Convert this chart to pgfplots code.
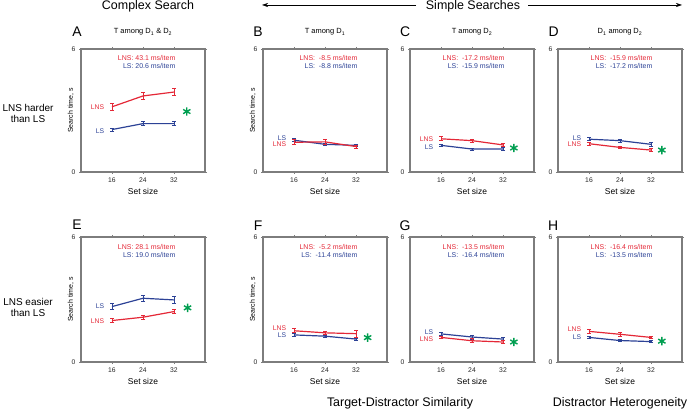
\documentclass[border=0pt]{standalone}
\usepackage{fontspec}
\setmainfont{Liberation Sans}
\usepackage{pgfplots}
\pgfplotsset{compat=1.18}
\usetikzlibrary{arrows.meta}
\definecolor{lnsred}{RGB}{228,40,55}
\definecolor{lsblue}{RGB}{44,66,150}
\definecolor{stargreen}{RGB}{0,158,80}
\definecolor{framegray}{RGB}{125,125,125}
\pgfplotsset{
  panel/.style={scale only axis, width=124bp, xmin=8, xmax=40, ymin=0, ymax=6,
    xtick={16,24,32}, ytick={0,6}, clip=false,
    axis line style={framegray, line width=1.1pt},
    tick style={framegray, line width=0.5pt}, major tick length=2bp, tick align=outside,
    ticklabel style={font=\fontsize{6.8}{7}\selectfont, text=black!85},
    /pgf/number format/assume math mode=true,
    xlabel={Set size}, xlabel style={font=\fontsize{8.5}{9}\selectfont, at={(axis description cs:0.5,0)}, anchor=center, yshift=-19bp},
    ylabel style={font=\fontsize{7}{8}\selectfont, at={(axis description cs:-0.082,0.5)}, anchor=center},
    title style={font=\fontsize{7.5}{8}\selectfont, at={(axis description cs:0.5,1)}, anchor=center, yshift=11bp},
    anchor=south west},
  toprow/.style={height=123bp},
  botrow/.style={height=125bp},
  lns/.style={lnsred, line width=1.2pt, mark=none, error bars/.cd, y dir=both, y explicit,
    error bar style={lnsred, line width=0.8pt}, error mark options={rotate=90, mark size=2bp, lnsred, line width=0.8pt}},
  ls/.style={lsblue, line width=1.2pt, mark=none, error bars/.cd, y dir=both, y explicit,
    error bar style={lsblue, line width=0.8pt}, error mark options={rotate=90, mark size=2bp, lsblue, line width=0.8pt}},
  star/.style={only marks, mark=asterisk, mark size=4.2bp, stargreen, line width=1.4pt},
}
\tikzset{
  ann/.style={anchor=east, font=\fontsize{7}{8}\selectfont, inner sep=0pt},
  ser/.style={anchor=east, font=\fontsize{6.8}{7}\selectfont, inner sep=0pt},
  letter/.style={anchor=center, font=\fontsize{14}{15}\selectfont},
  head/.style={font=\fontsize{12.5}{14}\selectfont, anchor=center},
}
\begin{document}
\begin{tikzpicture}
\useasboundingbox (0,0) rectangle (689bp,411bp);
% Headers
\node[head] at (148bp,405bp) {Complex Search};
\node[head] at (473bp,405bp) {Simple Searches};
\draw[line width=0.6pt, -{Stealth[length=6bp,width=4bp]}] (416bp,406bp) -- (262bp,406bp);
\draw[line width=0.6pt, -{Stealth[length=6bp,width=4bp]}] (528bp,406bp) -- (682bp,406bp);
\node[head] at (400bp,8bp) {Target-Distractor Similarity};
\node[head] at (620bp,8bp) {Distractor Heterogeneity};
\node[font=\fontsize{10}{11}\selectfont, align=center] at (28bp,298bp) {LNS harder\\than LS};
\node[font=\fontsize{10}{11}\selectfont, align=center] at (28bp,104bp) {LNS easier\\than LS};

% ---------- A ----------
\begin{axis}[panel, toprow, at={(81bp,239bp)}, ylabel={Search time, s}, title={T among D\textsubscript{1} \& D\textsubscript{2}}]
\addplot[lns] coordinates {(16,3.18) +- (0,0.18) (24,3.71) +- (0,0.18) (32,3.90) +- (0,0.18)};
\addplot[ls] coordinates {(16,2.07) +- (0,0.07) (24,2.36) +- (0,0.1) (32,2.36) +- (0,0.1)};
\addplot[star] coordinates {(35.3,2.95)};
\node[ann, lnsred] at (axis cs:32.4,5.55) {LNS: 43.1 ms/item};
\node[ann, lsblue] at (axis cs:32.4,5.15) {LS: 20.6 ms/item};
\node[ser, lnsred] at (axis cs:14,3.18) {LNS};
\node[ser, lsblue] at (axis cs:14,2.0) {LS};
\node[letter] at (axis description cs:-0.032,1.138) {A};
\end{axis}

% ---------- B ----------
\begin{axis}[panel, toprow, at={(263bp,239bp)}, ylabel={Search time, s}, title={T among D\textsubscript{1}}]
\addplot[ls] coordinates {(16,1.55) +- (0,0.08) (24,1.35) +- (0,0.06) (32,1.30) +- (0,0.05)};
\addplot[lns] coordinates {(16,1.45) +- (0,0.12) (24,1.47) +- (0,0.1) (32,1.24) +- (0,0.07)};
\node[ann, lnsred] at (axis cs:32.4,5.55) {LNS:\ \ -8.5 ms/item};
\node[ann, lsblue] at (axis cs:32.4,5.15) {LS:\ \ -8.8 ms/item};
\node[ser, lsblue] at (axis cs:14,1.66) {LS};
\node[ser, lnsred] at (axis cs:14,1.36) {LNS};
\node[letter] at (axis description cs:-0.04,1.138) {B};
\end{axis}

% ---------- C ----------
\begin{axis}[panel, toprow, at={(410bp,239bp)}, title={T among D\textsubscript{2}}]
\addplot[lns] coordinates {(16,1.62) +- (0,0.1) (24,1.53) +- (0,0.08) (32,1.32) +- (0,0.08)};
\addplot[ls] coordinates {(16,1.30) +- (0,0.06) (24,1.12) +- (0,0.05) (32,1.12) +- (0,0.06)};
\addplot[star] coordinates {(34.8,1.17)};
\node[ann, lnsred] at (axis cs:32.4,5.55) {LNS:\ \ -17.2 ms/item};
\node[ann, lsblue] at (axis cs:32.4,5.15) {LS:\ \ -15.9 ms/item};
\node[ser, lnsred] at (axis cs:14,1.62) {LNS};
\node[ser, lsblue] at (axis cs:14,1.22) {LS};
\node[letter] at (axis description cs:-0.04,1.138) {C};
\end{axis}

% ---------- D ----------
\begin{axis}[panel, toprow, at={(558bp,239bp)}, title={D\textsubscript{1} among D\textsubscript{2}}]
\addplot[ls] coordinates {(16,1.60) +- (0,0.08) (24,1.53) +- (0,0.07) (32,1.35) +- (0,0.08)};
\addplot[lns] coordinates {(16,1.38) +- (0,0.08) (24,1.20) +- (0,0.05) (32,1.07) +- (0,0.07)};
\addplot[star] coordinates {(34.8,1.07)};
\node[ann, lnsred] at (axis cs:32.4,5.55) {LNS:\ \ -15.9 ms/item};
\node[ann, lsblue] at (axis cs:32.4,5.15) {LS:\ \ -17.2 ms/item};
\node[ser, lsblue] at (axis cs:14,1.66) {LS};
\node[ser, lnsred] at (axis cs:14,1.36) {LNS};
\node[letter] at (axis description cs:-0.035,1.138) {D};
\end{axis}

% ---------- E ----------
\begin{axis}[panel, botrow, at={(81bp,49bp)}, ylabel={Search time, s}]
\addplot[ls] coordinates {(16,2.66) +- (0,0.15) (24,3.06) +- (0,0.15) (32,2.98) +- (0,0.15)};
\addplot[lns] coordinates {(16,1.99) +- (0,0.1) (24,2.15) +- (0,0.1) (32,2.42) +- (0,0.1)};
\addplot[star] coordinates {(35.5,2.6)};
\node[ann, lnsred] at (axis cs:32.4,5.52) {LNS: 28.1 ms/item};
\node[ann, lsblue] at (axis cs:32.4,5.13) {LS: 19.0 ms/item};
\node[ser, lsblue] at (axis cs:14,2.66) {LS};
\node[ser, lnsred] at (axis cs:14,1.94) {LNS};
\node[letter] at (axis description cs:-0.032,1.096) {E};
\end{axis}

% ---------- F ----------
\begin{axis}[panel, botrow, at={(263bp,49bp)}, ylabel={Search time, s}]
\addplot[ls] coordinates {(16,1.30) +- (0,0.06) (24,1.24) +- (0,0.05) (32,1.10) +- (0,0.05)};
\addplot[lns] coordinates {(16,1.50) +- (0,0.1) (24,1.40) +- (0,0.07) (32,1.36) +- (0,0.18)};
\addplot[star] coordinates {(35,1.17)};
\node[ann, lnsred] at (axis cs:32.4,5.52) {LNS:\ \ -5.2 ms/item};
\node[ann, lsblue] at (axis cs:32.4,5.13) {LS:\ \ -11.4 ms/item};
\node[ser, lnsred] at (axis cs:14,1.61) {LNS};
\node[ser, lsblue] at (axis cs:14,1.29) {LS};
\node[letter] at (axis description cs:-0.04,1.09) {F};
\end{axis}

% ---------- G ----------
\begin{axis}[panel, botrow, at={(410bp,49bp)}]
\addplot[ls] coordinates {(16,1.35) +- (0,0.08) (24,1.20) +- (0,0.1) (32,1.10) +- (0,0.08)};
\addplot[lns] coordinates {(16,1.18) +- (0,0.07) (24,1.02) +- (0,0.1) (32,0.96) +- (0,0.07)};
\addplot[star] coordinates {(34.8,0.96)};
\node[ann, lnsred] at (axis cs:32.4,5.52) {LNS:\ \ -13.5 ms/item};
\node[ann, lsblue] at (axis cs:32.4,5.13) {LS:\ \ -16.4 ms/item};
\node[ser, lsblue] at (axis cs:14,1.42) {LS};
\node[ser, lnsred] at (axis cs:14,1.11) {LNS};
\node[letter] at (axis description cs:-0.04,1.09) {G};
\end{axis}

% ---------- H ----------
\begin{axis}[panel, botrow, at={(558bp,49bp)}]
\addplot[lns] coordinates {(16,1.47) +- (0,0.1) (24,1.33) +- (0,0.08) (32,1.18) +- (0,0.07)};
\addplot[ls] coordinates {(16,1.18) +- (0,0.06) (24,1.03) +- (0,0.06) (32,0.98) +- (0,0.06)};
\addplot[star] coordinates {(34.8,1.0)};
\node[ann, lnsred] at (axis cs:32.4,5.52) {LNS:\ \ -16.4 ms/item};
\node[ann, lsblue] at (axis cs:32.4,5.13) {LS:\ \ -13.5 ms/item};
\node[ser, lnsred] at (axis cs:14,1.56) {LNS};
\node[ser, lsblue] at (axis cs:14,1.21) {LS};
\node[letter] at (axis description cs:-0.04,1.09) {H};
\end{axis}
\end{tikzpicture}
\end{document}
